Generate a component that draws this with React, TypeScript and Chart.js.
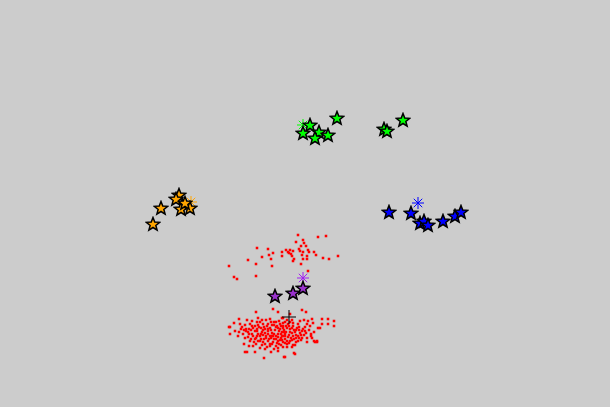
import React, { useEffect, useRef } from "react";
import { Chart, registerables } from "chart.js";

Chart.register(...registerables);

// Cluster members (star markers)
const orangeStars: [number, number][] = [
  [179, 195], [176, 199], [161, 208], [181, 209], [190, 208], [185, 203], [153, 224],
];
const greenStars: [number, number][] = [
  [310, 125], [303, 133], [319, 132], [315, 138], [328, 135], [337, 118], [384, 129], [387, 131], [403, 120],
];
const blueStars: [number, number][] = [
  [389, 212], [411, 213], [420, 223], [424, 221], [428, 225], [443, 221], [455, 216], [461, 212],
];
const purpleStars: [number, number][] = [
  [275, 296], [293, 293], [303, 288],
];

// Centroids
const centroidLabels = ["orange", "green", "blue", "purple", "red"];
const centroidX = [191, 303, 418, 303, 289];
const centroidY = [202, 125, 203, 278, 317];

// Red points (noise / large cluster)
const redPoints: [number, number][] = [
  // upper sparse group
  [298, 235], [303, 240], [296, 242], [304, 243], [318, 237], [326, 236], [301, 246], [306, 246],
  [299, 249], [286, 250], [290, 250], [293, 251], [291, 254], [288, 252], [282, 252], [300, 251],
  [303, 252], [308, 250], [309, 252], [314, 252], [302, 255], [307, 256], [316, 255], [292, 256],
  [282, 256], [257, 248], [268, 249], [273, 253], [262, 257], [269, 255], [294, 259], [303, 259],
  [307, 259], [323, 258], [329, 259], [338, 256], [248, 260], [271, 259], [293, 261], [301, 264],
  [256, 264], [272, 266], [229, 266], [308, 271], [234, 277], [237, 279], [256, 276], [289, 253],
  // lower dense group
  [256, 312], [273, 309], [278, 312], [239, 319], [234, 323], [247, 320], [258, 318], [262, 320],
  [266, 320], [270, 319], [274, 322], [282, 318], [230, 327], [240, 324], [245, 325], [250, 324],
  [255, 326], [258, 325], [263, 324], [268, 324], [272, 325], [277, 326], [280, 324], [283, 326],
  [235, 331], [241, 329], [246, 329], [251, 330], [257, 329], [261, 328], [265, 329], [270, 328],
  [275, 330], [280, 329], [284, 330], [230, 334], [238, 336], [243, 334], [249, 334], [253, 336],
  [258, 334], [263, 335], [268, 334], [272, 336], [278, 334], [282, 336], [245, 338], [251, 339],
  [256, 338], [261, 339], [266, 338], [271, 338], [276, 339], [281, 338], [250, 341], [254, 342],
  [258, 341], [263, 342], [268, 341], [273, 342], [278, 341], [283, 342], [244, 344], [249, 346],
  [253, 346], [260, 348], [265, 349], [270, 346], [274, 349], [278, 348], [283, 347], [247, 352],
  [255, 352], [271, 352], [278, 351], [264, 358],
  [302, 310], [306, 312], [290, 314], [283, 318], [287, 320], [292, 320], [304, 320], [308, 321],
  [312, 319], [322, 319], [328, 319], [334, 321], [283, 323], [288, 324], [293, 323], [298, 324],
  [307, 324], [313, 323], [283, 328], [287, 328], [292, 328], [297, 328], [303, 329], [309, 330],
  [318, 328], [320, 328], [282, 332], [286, 332], [290, 332], [295, 332], [300, 333], [306, 333],
  [314, 332], [283, 336], [288, 337], [293, 336], [298, 336], [302, 338], [307, 338], [312, 338],
  [282, 340], [287, 341], [292, 340], [296, 342], [301, 340], [307, 342], [314, 341], [317, 341],
  [287, 344], [293, 345], [315, 342], [287, 347], [292, 347], [295, 345], [284, 357], [295, 354],
  [322, 324], [328, 324], [334, 326], [229, 327], [245, 352], [285, 357], [294, 353], [317, 342],
  [260, 322], [264, 327], [268, 331], [272, 333], [276, 327], [279, 331], [285, 334], [289, 326],
  [294, 330], [299, 330], [262, 332], [257, 331], [253, 328], [248, 332], [266, 336], [274, 339],
  [285, 339], [291, 338], [296, 338], [279, 321], [271, 322], [285, 322], [276, 336], [260, 336],
  [265, 344], [270, 344], [279, 344], [256, 344], [301, 335], [305, 327], [311, 334], [246, 331],
  [242, 327], [252, 321], [289, 343], [298, 341], [304, 335],
  // extra core density
  [255, 331], [259, 327], [263, 330], [267, 326], [271, 330], [274, 325], [278, 328], [281, 326],
  [286, 326], [290, 329], [293, 326], [296, 330], [299, 327], [302, 331], [261, 334], [265, 333],
  [270, 336], [274, 334], [278, 337], [281, 334], [285, 336], [289, 335], [292, 333], [296, 335],
  [299, 338], [252, 334], [248, 337], [255, 339], [260, 341], [264, 339], [269, 339], [273, 336],
  [277, 343], [281, 345], [285, 343], [290, 341], [294, 339], [262, 345], [267, 347], [272, 344],
  [276, 346], [257, 322], [276, 322], [290, 322], [300, 321], [244, 330], [239, 332], [305, 331],
  [310, 326], [311, 336], [252, 326], [268, 329], [284, 332], [280, 340], [257, 336], [249, 329],
];

function makeStar(fill: string): HTMLCanvasElement {
  const size = 16;
  const c = document.createElement("canvas");
  c.width = size;
  c.height = size;
  const ctx = c.getContext("2d")!;
  const cx = size / 2;
  const cy = size / 2 + 0.5;
  const outer = 7;
  const inner = 3;
  ctx.beginPath();
  for (let i = 0; i < 10; i++) {
    const r = i % 2 === 0 ? outer : inner;
    const a = -Math.PI / 2 + (i * Math.PI) / 5;
    const x = cx + r * Math.cos(a);
    const y = cy + r * Math.sin(a);
    if (i === 0) ctx.moveTo(x, y);
    else ctx.lineTo(x, y);
  }
  ctx.closePath();
  ctx.fillStyle = fill;
  ctx.fill();
  ctx.lineWidth = 1.5;
  ctx.strokeStyle = "#000000";
  ctx.stroke();
  return c;
}

const toXY = (arr: [number, number][]) => arr.map(([x, y]) => ({ x, y }));

export default function App() {
  const ref = useRef<HTMLCanvasElement>(null);
  useEffect(() => {
    if (!ref.current) return;
    const centroidColors = ["#ffa500", "#00ff00", "#0000ff", "#a020f0", "#000000"];
    const centroidDatasets = centroidLabels.map((lab, i) => ({
      label: "centroid-" + lab,
      data: [{ x: centroidX[i], y: centroidY[i] }],
      pointStyle: i === 4 ? "cross" : "star",
      pointRadius: i === 4 ? 7 : 6,
      borderColor: centroidColors[i],
      backgroundColor: centroidColors[i],
      borderWidth: 1,
      order: 3,
    }));
    const chart = new Chart(ref.current, {
      type: "scatter",
      data: {
        datasets: [
          { label: "orange", data: toXY(orangeStars), pointStyle: makeStar("#ffa500"), order: 1 },
          { label: "green", data: toXY(greenStars), pointStyle: makeStar("#00ff00"), order: 1 },
          { label: "blue", data: toXY(blueStars), pointStyle: makeStar("#0000ff"), order: 1 },
          { label: "purple", data: toXY(purpleStars), pointStyle: makeStar("#9932cc"), order: 1 },
          ...centroidDatasets,
          {
            label: "red",
            data: toXY(redPoints),
            pointStyle: "rect",
            pointRadius: 1.8,
            borderWidth: 0,
            backgroundColor: "#ff0000",
            borderColor: "#ff0000",
            order: 5,
          },
        ] as any,
      },
      options: {
        animation: false,
        responsive: false,
        maintainAspectRatio: false,
        layout: { padding: 0, autoPadding: false },
        plugins: { legend: { display: false }, tooltip: { enabled: false } },
        scales: {
          x: { type: "linear", min: 0, max: 610, display: false },
          y: { type: "linear", min: 0, max: 407, reverse: true, display: false },
        },
        elements: { point: { hoverRadius: 0 } },
      } as any,
    });
    return () => chart.destroy();
  }, []);
  return (
    <div style={{ position: "fixed", left: 0, top: 0, width: 610, height: 407, background: "#cccccc" }}>
      <canvas ref={ref} width={610} height={407} style={{ display: "block" }} />
    </div>
  );
}
